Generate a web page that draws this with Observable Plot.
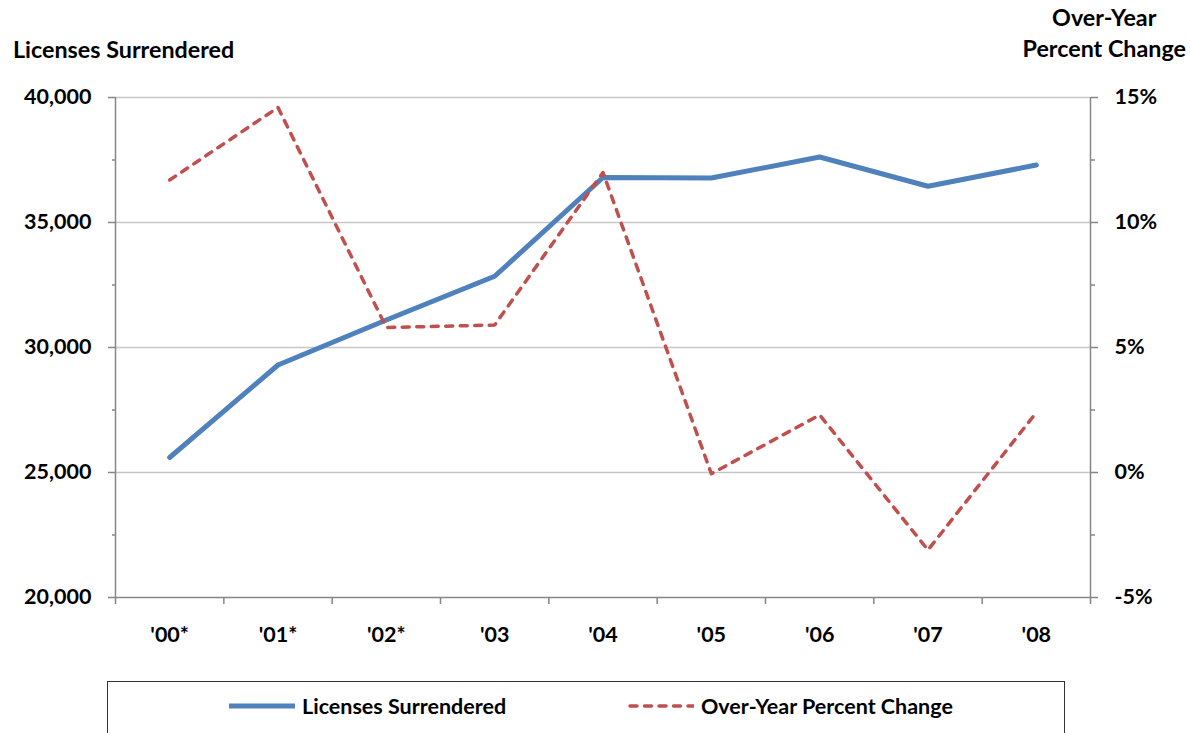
<!DOCTYPE html>
<html><head><meta charset="utf-8">
<script src="https://cdn.jsdelivr.net/npm/d3@7"></script>
<script src="https://cdn.jsdelivr.net/npm/@observablehq/plot@0.6"></script>
<style>
body{margin:0;background:#fff;overflow:hidden;}
#wrap{position:relative;width:1191px;height:733px;overflow:hidden;font-family:Lato,"DejaVu Sans",sans-serif;font-weight:700;color:#000;}
#chart{position:absolute;left:0;top:0;}
.t{position:absolute;font-size:23.3px;font-weight:700;line-height:31px;white-space:nowrap;}
#lt{left:13px;top:34px;}
#rt{right:5px;top:2px;text-align:center;}
#legend{position:absolute;left:107px;top:681px;width:958px;height:80px;border:1.5px solid #333;box-sizing:border-box;}
.li{position:absolute;top:11px;display:flex;align-items:center;font-size:21.5px;white-space:nowrap;}
.li svg{margin-right:7px;}
</style></head><body>
<div id="wrap">
<div id="chart"></div>
<div class="t" id="lt">Licenses Surrendered</div>
<div class="t" id="rt">Over-Year<br>Percent Change</div>
<div id="legend"></div>
</div>
<script>
// ---- data ----
const years = ["'00*", "'01*", "'02*", "'03", "'04", "'05", "'06", "'07", "'08"];
const licenses = [25600, 29300, 31100, 32850, 36800, 36780, 37620, 36450, 37300];
const pctChange = [11.7, 14.6, 5.8, 5.9, 12.0, -0.05, 2.3, -3.1, 2.4];
const leftTicks = [20000, 25000, 30000, 35000, 40000];
const rightTicks = ["-5%", "0%", "5%", "10%", "15%"];
const seriesNames = ["Licenses Surrendered", "Over-Year Percent Change"];
const seriesColors = ["#4f81bd", "#c0504d"];

// percent axis shares the frame: -5%..15% maps onto 20,000..40,000
const pctToLeft = p => 25000 + p * 1000;

const idx = d3.range(years.length);
const data = idx.map(i => ({i, year: years[i], lic: licenses[i], pct: pctChange[i], pctY: pctToLeft(pctChange[i])}));
const bounds = d3.range(years.length + 1).map(i => i - 0.5);
const minor = d3.pairs(leftTicks).map(([a, b]) => (a + b) / 2);
const axisColor = "#868686";
const grid = "#c6c6c6";
const fs = 21.5;

const plot = Plot.plot({
  width: 1191, height: 680,
  marginTop: 97, marginBottom: 83, marginLeft: 115, marginRight: 101,
  x: {type: "linear", domain: [-0.5, years.length - 0.5]},
  y: {domain: [leftTicks[0], leftTicks[leftTicks.length - 1]]},
  style: {fontFamily: "Lato, 'DejaVu Sans', sans-serif", fontSize: fs + "px", color: "#000", background: "#fff", overflow: "visible"},
  marks: [
    Plot.ruleY(leftTicks.slice(1), {stroke: grid, strokeWidth: 1.5}),
    Plot.ruleX([bounds[0], bounds[bounds.length - 1]], {stroke: axisColor, strokeWidth: 1.5}),
    Plot.ruleY([leftTicks[0]], {stroke: axisColor, strokeWidth: 1.5}),
    // left axis
    Plot.axisY({anchor: "left", ticks: leftTicks, tickSize: 7, tickPadding: 17, tickFormat: d3.format(","),
      stroke: axisColor, strokeWidth: 1.5, fill: "#000", fontSize: fs, fontWeight: 700, label: null}),
    Plot.axisY({anchor: "left", ticks: minor, tickSize: 3, tickFormat: () => "", stroke: axisColor, strokeWidth: 1.5, label: null}),
    // right axis
    Plot.axisY({anchor: "right", ticks: leftTicks, tickSize: 7, tickPadding: 17,
      tickFormat: d => rightTicks[leftTicks.indexOf(d)],
      stroke: axisColor, strokeWidth: 1.5, fill: "#000", fontSize: fs, fontWeight: 700, label: null}),
    Plot.axisY({anchor: "right", ticks: minor, tickSize: 4, tickFormat: () => "", stroke: axisColor, strokeWidth: 1.5, label: null}),
    // x axis
    Plot.axisX({anchor: "bottom", ticks: bounds, tickSize: 7, tickFormat: () => "", stroke: axisColor, strokeWidth: 1.5, label: null}),
    Plot.axisX({anchor: "bottom", ticks: idx, tickSize: 0, tickPadding: 29, tickFormat: i => years[i],
      fill: "#000", fontSize: fs, fontWeight: 700, label: null}),
    // series
    Plot.line(data, {x: "i", y: "lic", stroke: seriesColors[0], strokeWidth: 5, strokeLinejoin: "round"}),
    Plot.line(data, {x: "i", y: "pctY", stroke: seriesColors[1], strokeWidth: 3.5, strokeDasharray: "7,7.5", strokeLinecap: "round", strokeLinejoin: "round"})
  ]
});
document.getElementById("chart").appendChild(plot);

// legend
const legend = document.getElementById("legend");
const legendLeft = [121, 520];
seriesNames.forEach((name, k) => {
  const item = document.createElement("div");
  item.className = "li";
  item.style.left = legendLeft[k] + "px";
  const dash = k === 1 ? ' stroke-dasharray="7,7.5" stroke-linecap="round"' : '';
  const sw = k === 0 ? 5 : 3.5;
  item.innerHTML = `<svg width="66" height="10"><line x1="${k===1?2:0}" y1="5" x2="66" y2="5" stroke="${seriesColors[k]}" stroke-width="${sw}"${dash}/></svg><span>${name}</span>`;
  legend.appendChild(item);
});
</script>
</body></html>
